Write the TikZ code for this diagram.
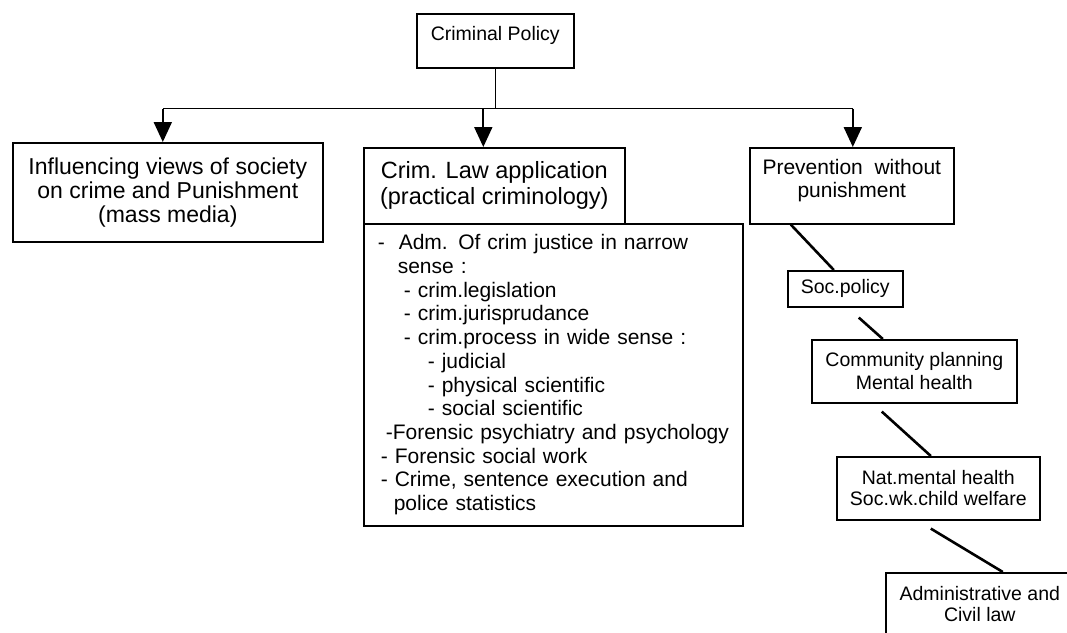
\documentclass[tikz,border=0pt]{standalone}
\usepackage{fontspec}
\setmainfont{Liberation Sans}
\usetikzlibrary{arrows.meta,calc}
\tikzset{
  box/.style={draw, line width=1.6pt, inner sep=0pt, anchor=north west},
  arr/.style={line width=2pt, -{Triangle[length=20pt,width=18pt]}},
  tree/.style={line width=1.6pt},
  diag/.style={line width=2.6pt},
  fbig/.style={font=\fontsize{23}{24}\selectfont},
  fmid/.style={font=\fontsize{21}{23}\selectfont},
  fsmall/.style={font=\fontsize{19.5}{21}\selectfont}
}
\begin{document}
\begin{tikzpicture}[x=1pt,y=-1pt]
\clip (0,0) rectangle (1067,632);
\fill[white] (0,0) rectangle (1067,632);

% top
\node[box, minimum width=157pt, text height=27pt, text depth=27pt, fsmall] (cp) at (416,13) {Criminal Policy};

% level 1
\node[box, minimum width=310pt, minimum height=99pt, align=center, fbig] (infl) at (12,142)
  {Influencing views of society\\on crime and Punishment\\(mass media)};
\node[box, minimum width=261pt, minimum height=76pt, align=center, font=\fontsize{23.5}{26}\selectfont] (claw) at (363,147)
  {Crim. Law application\\(practical criminology)};
\node[box, minimum width=204pt, minimum height=76pt, align=center, fmid] (prev) at (749,147)
  {Prevention\ \ without\\punishment\\[-8pt]\mbox{}};

% list box
\node[box, minimum width=379pt, minimum height=302pt, text width=379pt, align=left, font=\fontsize{21}{23.7}\selectfont] (list) at (363,223)
  {\hspace*{14pt}-\ \ Adm. Of crim justice in narrow\\
   \hspace*{34pt}sense :\\
   \hspace*{40pt}- crim.legislation\\
   \hspace*{40pt}- crim.jurisprudance\\
   \hspace*{40pt}- crim.process in wide sense :\\
   \hspace*{64pt}- judicial\\
   \hspace*{64pt}- physical scientific\\
   \hspace*{64pt}- social scientific\\
   \hspace*{22pt}-Forensic psychiatry and psychology\\
   \hspace*{17pt}- Forensic social work\\
   \hspace*{17pt}- Crime, sentence execution and\\
   \hspace*{30pt}police statistics};

% right chain
\node[box, minimum width=115pt, minimum height=36pt, fsmall] (soc) at (787,270) {Soc.policy};
\node[box, minimum width=205pt, minimum height=63pt, align=center, font=\fontsize{19.5}{23}\selectfont] (comm) at (811,339)
  {Community planning\\Mental health};
\node[box, minimum width=203pt, minimum height=63pt, align=center, fsmall] (nat) at (836,456)
  {Nat.mental health\\Soc.wk.child welfare};
\node[box, minimum width=188pt, minimum height=63pt, align=center, fsmall] (adm) at (885,572)
  {Administrative and\\Civil law};

% tree connectors
\coordinate (hub) at ($(cp.south)+(0,-40pt)$);
\coordinate (la) at ([xshift=-5pt]infl.north |- hub);
\coordinate (ma) at ([xshift=-11pt]claw.north |- hub);
\coordinate (ra) at ([xshift=1pt]prev.north |- hub);
\draw[tree] (cp.south) -- (hub);
\draw[tree] (la) -- (ra);
\draw[arr] (la) -- (la |- infl.north);
\draw[arr] (ma) -- (ma |- claw.north);
\draw[arr] (ra) -- (ra |- prev.north);

% diagonal connectors
\draw[diag] ([xshift=-61pt]prev.south) -- ([xshift=-11.5pt]soc.north);
\draw[diag] ([xshift=13.5pt,yshift=-10pt]soc.south) -- ([xshift=-31.5pt]comm.north);
\draw[diag] ([xshift=-32.5pt,yshift=-8pt]comm.south) -- ([xshift=-7.5pt]nat.north);
\draw[diag] ([xshift=-7.5pt,yshift=-8pt]nat.south) -- ([xshift=23pt]adm.north);
\end{tikzpicture}
\end{document}
